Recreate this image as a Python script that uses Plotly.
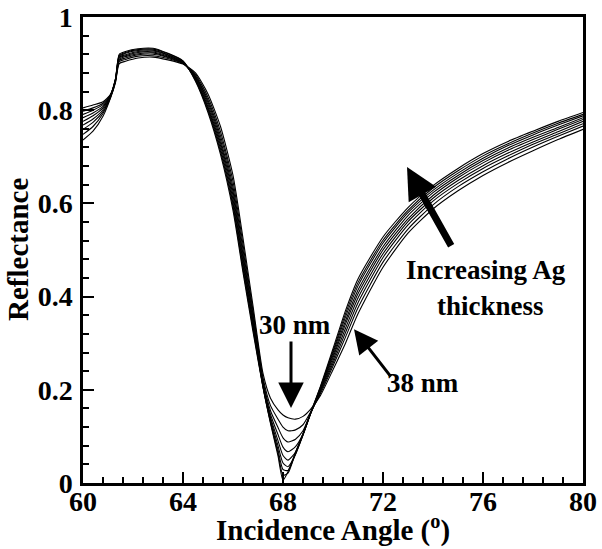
import plotly.graph_objects as go

# Incidence angles (deg)
angle = [60.0, 60.4, 60.8, 61.1, 61.3, 61.45, 61.7, 62.2, 62.8, 63.4, 64.0, 64.5, 65.0, 65.5,
         66.0, 66.4, 66.8, 67.2, 67.5, 67.8, 68.0, 68.2, 68.5, 68.8, 69.1, 69.5, 70.0, 70.5,
         71.0, 72.0, 73.0, 74.0, 75.0, 76.0, 77.0, 78.0, 79.0, 80.0]

R30 = [0.736, 0.755, 0.787, 0.826, 0.860, 0.900, 0.905, 0.912, 0.914, 0.908, 0.899, 0.880, 0.835, 0.765,
       0.660, 0.525, 0.380, 0.235, 0.182, 0.157, 0.146, 0.140, 0.137, 0.143, 0.158, 0.188, 0.243, 0.300,
       0.363, 0.463, 0.536, 0.588, 0.627, 0.660, 0.688, 0.713, 0.737, 0.759]
R31 = [0.748, 0.765, 0.793, 0.827, 0.861, 0.904, 0.909, 0.916, 0.917, 0.911, 0.900, 0.877, 0.828, 0.754,
       0.647, 0.512, 0.370, 0.226, 0.166, 0.137, 0.120, 0.112, 0.114, 0.125, 0.152, 0.192, 0.251, 0.313,
       0.376, 0.474, 0.545, 0.597, 0.636, 0.668, 0.696, 0.721, 0.744, 0.766]
R32 = [0.759, 0.774, 0.797, 0.829, 0.863, 0.907, 0.912, 0.919, 0.920, 0.913, 0.900, 0.874, 0.822, 0.745,
       0.635, 0.501, 0.362, 0.220, 0.155, 0.119, 0.097, 0.088, 0.094, 0.112, 0.149, 0.195, 0.257, 0.323,
       0.387, 0.484, 0.554, 0.605, 0.643, 0.675, 0.702, 0.727, 0.749, 0.771]
R33 = [0.768, 0.781, 0.801, 0.830, 0.864, 0.909, 0.915, 0.921, 0.923, 0.914, 0.901, 0.872, 0.817, 0.737,
       0.626, 0.491, 0.355, 0.215, 0.147, 0.104, 0.077, 0.067, 0.078, 0.105, 0.148, 0.198, 0.263, 0.332,
       0.397, 0.492, 0.561, 0.611, 0.649, 0.681, 0.708, 0.732, 0.754, 0.776]
R34 = [0.776, 0.788, 0.805, 0.831, 0.865, 0.912, 0.917, 0.924, 0.925, 0.916, 0.902, 0.870, 0.812, 0.730,
       0.617, 0.483, 0.348, 0.212, 0.141, 0.091, 0.059, 0.049, 0.066, 0.103, 0.148, 0.200, 0.269, 0.341,
       0.406, 0.500, 0.567, 0.617, 0.655, 0.687, 0.714, 0.737, 0.759, 0.780]
R35 = [0.784, 0.794, 0.808, 0.832, 0.866, 0.914, 0.919, 0.926, 0.927, 0.918, 0.903, 0.868, 0.807, 0.724,
       0.608, 0.475, 0.342, 0.209, 0.137, 0.080, 0.043, 0.035, 0.061, 0.103, 0.149, 0.202, 0.274, 0.348,
       0.414, 0.507, 0.574, 0.623, 0.660, 0.692, 0.719, 0.742, 0.763, 0.784]
R36 = [0.791, 0.800, 0.812, 0.832, 0.866, 0.916, 0.922, 0.928, 0.929, 0.919, 0.904, 0.866, 0.803, 0.717,
       0.600, 0.467, 0.336, 0.207, 0.133, 0.071, 0.029, 0.027, 0.062, 0.104, 0.149, 0.204, 0.279, 0.356,
       0.423, 0.515, 0.580, 0.628, 0.665, 0.697, 0.724, 0.747, 0.768, 0.788]
R37 = [0.798, 0.805, 0.815, 0.833, 0.867, 0.918, 0.924, 0.930, 0.931, 0.921, 0.905, 0.864, 0.799, 0.711,
       0.593, 0.459, 0.331, 0.206, 0.130, 0.064, 0.017, 0.021, 0.065, 0.105, 0.150, 0.206, 0.283, 0.363,
       0.430, 0.521, 0.585, 0.633, 0.670, 0.702, 0.728, 0.751, 0.772, 0.791]
R38 = [0.805, 0.811, 0.818, 0.834, 0.868, 0.920, 0.926, 0.932, 0.933, 0.922, 0.906, 0.862, 0.795, 0.705,
       0.585, 0.452, 0.325, 0.205, 0.128, 0.058, 0.006, 0.024, 0.066, 0.106, 0.150, 0.208, 0.288, 0.370,
       0.438, 0.528, 0.591, 0.638, 0.675, 0.707, 0.733, 0.755, 0.776, 0.795]

thickness_nm = [30, 31, 32, 33, 34, 35, 36, 37, 38]
curves = [R30, R31, R32, R33, R34, R35, R36, R37, R38]

x_ticks = [60, 64, 68, 72, 76, 80]
y_ticks = [0, 0.2, 0.4, 0.6, 0.8, 1]

x_title = "Incidence Angle (<sup>o</sup>)"
y_title = "Reflectance"

FONT = "Liberation Serif"

fig = go.Figure()
for t, r in zip(thickness_nm, curves):
    fig.add_trace(go.Scatter(x=angle, y=r, mode="lines", name=f"{t} nm",
                             line=dict(color="black", width=1.1, shape="spline", smoothing=0.6),
                             showlegend=False))

axis_common = dict(showline=True, linecolor="black", linewidth=2.5, mirror=True,
                   ticks="inside", ticklen=11, tickwidth=2, tickcolor="black",
                   showgrid=False, zeroline=False, automargin=False,
                   tickfont=dict(family=FONT, size=28, color="black", weight="bold"))

fig.update_xaxes(range=[60, 80], tickvals=x_ticks,
                 minor=dict(dtick=0.8, tick0=60, ticks="inside", ticklen=6, tickwidth=1.5, tickcolor="black"),
                 ticklabelstandoff=-8,
                 **axis_common)
fig.update_yaxes(range=[0, 1], tickvals=y_ticks,
                 minor=dict(dtick=0.04, tick0=0, ticks="inside", ticklen=6, tickwidth=1.5, tickcolor="black"),
                 ticklabelstandoff=2,
                 **axis_common)

title_font = dict(family=FONT, size=29, color="black", weight="bold")
ann_font = dict(family=FONT, size=27, color="black", weight="bold")
annotations = [
    dict(x=0.5, y=-0.097, xref="paper", yref="paper", text=x_title, showarrow=False,
         font=title_font, xanchor="center", yanchor="middle"),
    dict(x=-0.13, y=0.5, xref="paper", yref="paper", text=y_title, showarrow=False,
         font=title_font, textangle=-90, xanchor="center", yanchor="middle"),
    dict(x=68.48, y=0.339, text="30 nm", showarrow=False, font=ann_font, xref="x", yref="y"),
    dict(x=68.32, y=0.161, ax=68.32, ay=0.307, axref="x", ayref="y", xref="x", yref="y",
         showarrow=True, arrowhead=2, arrowsize=1.7, arrowwidth=3, arrowcolor="black", text=""),
    dict(x=73.6, y=0.215, text="38 nm", showarrow=False, font=ann_font, xref="x", yref="y"),
    dict(x=70.84, y=0.330, ax=72.36, ay=0.225, axref="x", ayref="y", xref="x", yref="y",
         showarrow=True, arrowhead=2, arrowsize=1.6, arrowwidth=3, arrowcolor="black", text=""),
    dict(x=76.1, y=0.457, text="Increasing Ag", showarrow=False, font=ann_font, xref="x", yref="y"),
    dict(x=76.3, y=0.380, text="thickness", showarrow=False, font=ann_font, xref="x", yref="y"),
    dict(x=72.96, y=0.678, ax=74.76, ay=0.506, axref="x", ayref="y", xref="x", yref="y",
         showarrow=True, arrowhead=2, arrowsize=0.9, arrowwidth=7, arrowcolor="black", text=""),
]

fig.update_layout(width=602, height=549, margin=dict(l=83, r=19, t=17, b=66),
                  plot_bgcolor="white", paper_bgcolor="white", annotations=annotations)

fig.write_html("out.html")
